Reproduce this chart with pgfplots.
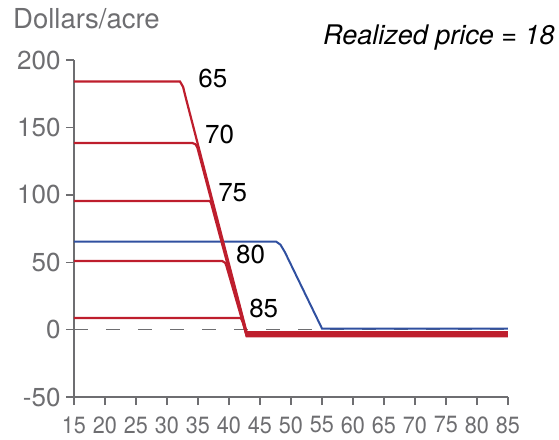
\documentclass[border=0pt]{standalone}
\usepackage{fontspec}
\setmainfont{TeX Gyre Heros}
\usepackage{pgfplots}
\pgfplotsset{compat=1.18}
\definecolor{axgray}{RGB}{110,110,113}
\definecolor{cred}{RGB}{190,30,45}
\definecolor{cblue}{RGB}{48,80,160}
\begin{document}
\begin{tikzpicture}
\begin{axis}[
    scale only axis,
    width=434bp, height=337bp,
    xmin=15, xmax=85, ymin=-50, ymax=200,
    axis x line*=bottom, axis y line*=left,
    axis line style={axgray, line width=1.6bp, -},
    xtick={15,20,...,85}, ytick={-50,0,50,100,150,200},
    tick style={axgray, line width=1.4bp},
    tick align=outside, major tick length=8bp,
    /pgf/number format/assume math mode=true,
    xticklabel style={font=\fontsize{23.5bp}{26bp}\selectfont, text=axgray, yshift=-8bp},
    xticklabel={\scalebox{0.92}[1]{\pgfmathprintnumber{\tick}}},
    yticklabel style={font=\fontsize{26bp}{28bp}\selectfont, text=axgray, xshift=-2bp},
    clip=false,
]
% zero line
\addplot[axgray, line width=1.2bp, dash pattern=on 14bp off 18bp] coordinates {(15,0) (85,0)};
% blue
\addplot[cblue, line width=2bp] coordinates {
 (15,65.3) (47.6,65.3) (48.3,63) (49,57.6) (55,0.8) (85,0.8)};
% red lines
\addplot[cred, line width=2.2bp] coordinates {
 (15,184) (32.1,184) (32.6,180) (33,172.5) (42.85,-2) (85,-2)};
\addplot[cred, line width=2.2bp] coordinates {
 (15,138.4) (34.1,138.4) (34.6,137.5) (34.9,135) (42.85,-3) (85,-3)};
\addplot[cred, line width=2.2bp] coordinates {
 (15,95.4) (36.9,95.4) (37.1,94) (42.85,-4) (85,-4)};
\addplot[cred, line width=2.2bp] coordinates {
 (15,50.9) (38.9,50.9) (39.4,49.5) (39.6,47) (42.85,-4.5) (85,-4.5)};
\addplot[cred, line width=2.2bp] coordinates {
 (15,8.6) (41.9,8.6) (42.3,5) (42.85,-5) (85,-5)};
% labels
\begin{scope}[every node/.style={font=\fontsize{26bp}{28bp}\selectfont, anchor=base}]
\node at (axis cs:37.4,179.7) {65};
\node at (axis cs:38.5,138.4) {70};
\node at (axis cs:40.6,94.9) {75};
\node at (axis cs:43.5,48.7) {80};
\node at (axis cs:45.6,8.8) {85};
\end{scope}
\end{axis}
\node[anchor=base west, inner sep=0, text=axgray, font=\fontsize{27.5bp}{30bp}\selectfont] at (-61bp,368bp) {Dollars/acre};
\node[anchor=base west, inner sep=0, font=\fontsize{27bp}{30bp}\selectfont\itshape] at (249bp,352bp) {Realized price = 18};
\pgfresetboundingbox
\path[use as bounding box] (-74bp,-43bp) rectangle (485bp,397bp);
\end{tikzpicture}
\end{document}
